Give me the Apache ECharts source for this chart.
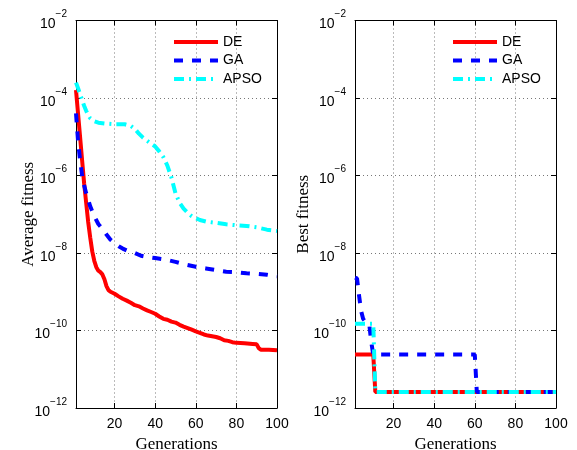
<!DOCTYPE html>
<html>
<head>
<meta charset="utf-8">
<script src="https://cdn.jsdelivr.net/npm/echarts@6/dist/echarts.min.js"></script>
<style>
  html, body { margin: 0; padding: 0; background: #fff; }
  #chart { width: 577px; height: 450px; }
</style>
</head>
<body>
<div id="chart"></div>
<script>
var deAvgGen = [1, 2, 3, 4, 5, 6, 7, 8, 9, 10, 11, 12, 13, 14, 15, 16, 17, 18, 20, 22, 24, 26, 28, 30, 32, 34, 36, 38, 40, 42, 44, 46, 48, 50, 52, 54, 56, 58, 60, 62, 64, 66, 68, 70, 72, 74, 76, 78, 80, 84, 88, 90, 91, 92, 96, 100];
var deAvg = [1.6e-4, 4.0e-5, 1.0e-5, 2.5e-6, 6.3e-7, 2.0e-7, 6.3e-8, 2.5e-8, 1.1e-8, 6.3e-9, 4.3e-9, 3.5e-9, 3.2e-9, 2.8e-9, 2.1e-9, 1.4e-9, 1.1e-9, 1.0e-9, 8.9e-10, 7.6e-10, 6.6e-10, 5.9e-10, 5.2e-10, 4.5e-10, 4.2e-10, 3.7e-10, 3.3e-10, 3.0e-10, 2.7e-10, 2.3e-10, 2.0e-10, 1.9e-10, 1.7e-10, 1.6e-10, 1.4e-10, 1.26e-10, 1.15e-10, 1.05e-10, 9.5e-11, 8.7e-11, 7.9e-11, 7.4e-11, 7.1e-11, 6.8e-11, 6.3e-11, 5.6e-11, 5.4e-11, 5.0e-11, 4.8e-11, 4.7e-11, 4.5e-11, 4.4e-11, 3.5e-11, 3.2e-11, 3.2e-11, 3.1e-11];

var gaAvgGen = [1, 2, 3, 4, 5, 6, 7, 8, 9, 10, 12, 14, 16, 18, 20, 22, 24, 27, 30, 33, 36, 40, 45, 50, 55, 60, 65, 70, 75, 80, 85, 90, 95, 100];
var gaAvg = [4.0e-5, 7.9e-6, 2.5e-6, 1.0e-6, 5.6e-7, 3.5e-7, 2.4e-7, 1.6e-7, 1.2e-7, 8.9e-8, 5.6e-8, 4.2e-8, 3.0e-8, 2.2e-8, 1.8e-8, 1.5e-8, 1.3e-8, 1.1e-8, 1.0e-8, 8.5e-9, 7.9e-9, 7.4e-9, 6.8e-9, 5.9e-9, 5.0e-9, 4.4e-9, 4.0e-9, 3.6e-9, 3.3e-9, 3.2e-9, 3.0e-9, 2.9e-9, 2.75e-9, 2.5e-9];

var apsoAvgGen = [1, 2, 3, 4, 5, 6, 7, 8, 10, 12, 15, 20, 25, 28, 30, 32, 34, 36, 38, 40, 42, 44, 46, 48, 50, 52, 54, 56, 58, 60, 62, 65, 70, 75, 80, 85, 90, 95, 100];
var apsoAvg = [2.5e-4, 1.8e-4, 1.26e-4, 8.9e-5, 6.3e-5, 4.7e-5, 3.6e-5, 3.0e-5, 2.5e-5, 2.3e-5, 2.2e-5, 2.1e-5, 2.1e-5, 1.9e-5, 1.6e-5, 1.2e-5, 9.5e-6, 7.9e-6, 6.6e-6, 5.6e-6, 4.2e-6, 3.0e-6, 1.8e-6, 8.9e-7, 3.5e-7, 2.0e-7, 1.4e-7, 1.1e-7, 8.9e-8, 7.9e-8, 7.1e-8, 6.5e-8, 6.0e-8, 5.5e-8, 5.2e-8, 5.0e-8, 4.6e-8, 4.0e-8, 3.7e-8];

var deBestGen = [1, 10, 11, 100];
var deBest = [2.4e-11, 2.4e-11, 2.6e-12, 2.6e-12];
var gaBestGen = [1, 2, 3, 4, 5, 6, 8, 9, 10, 60, 61, 100];
var gaBest = [2.3e-9, 2.2e-9, 8.0e-10, 3.2e-10, 2.0e-10, 1.7e-10, 1.5e-10, 5.0e-11, 2.4e-11, 2.4e-11, 2.6e-12, 2.6e-12];
var apsoBestGen = [1, 10, 11, 100];
var apsoBest = [1.5e-10, 1.5e-10, 2.6e-12, 2.6e-12];

var names = ['DE', 'GA', 'APSO'];
var xTicks = [20, 40, 60, 80, 100];

function pairs(xs, ys) {
  return xs.map(function (x, i) { return [x, ys[i]]; });
}

var dom = document.getElementById('chart');
var myChart = echarts.init(dom, null, { renderer: 'canvas' });

var sans = 'Liberation Sans';
var serif = 'Liberation Serif';

function logLabel(v) {
  var e = Math.round(Math.log10(v));
  return '{b|10}{s|' + (e < 0 ? '\u2212' : '') + Math.abs(e) + '}';
}

function xAxisFor(grid, top, title) {
  return {
    type: 'value', gridIndex: grid, min: 1, max: 100,
    position: top ? 'top' : 'bottom',
    name: top ? '' : title, nameLocation: 'middle', nameGap: 24,
    nameTextStyle: { fontFamily: serif, fontSize: 17, color: '#000' },
    axisLine: { show: true, onZero: false, lineStyle: { color: '#000', width: 1 } },
    axisTick: { show: true, inside: true, length: 5, customValues: xTicks, lineStyle: { color: '#000' } },
    axisLabel: { show: !top, customValues: xTicks, margin: 9, fontFamily: sans, fontSize: 14, color: '#000' },
    splitLine: { show: !top, lineStyle: { color: '#777', type: [1, 3], width: 1 } }
  };
}

function yAxisFor(grid, right, title, gap) {
  return {
    type: 'log', logBase: 10, gridIndex: grid, min: 1e-12, max: 1e-2,
    splitNumber: 5, interval: 2,
    position: right ? 'right' : 'left',
    name: right ? '' : title, nameLocation: 'middle', nameGap: gap,
    nameMoveOverlap: false,
    nameTextStyle: { fontFamily: serif, fontSize: 17, color: '#000' },
    axisLine: { show: true, lineStyle: { color: '#000', width: 1 } },
    axisTick: { show: true, inside: true, length: 5, lineStyle: { color: '#000' } },
    minorTick: { show: false },
    axisLabel: {
      show: !right, margin: 9, formatter: logLabel,
      rich: {
        b: { fontFamily: sans, fontSize: 14, color: '#000', lineHeight: 22, verticalAlign: 'bottom' },
        s: { fontFamily: sans, fontSize: 10, color: '#000', lineHeight: 22, verticalAlign: 'top' }
      }
    },
    splitLine: { show: !right, lineStyle: { color: '#777', type: [1, 3], width: 1 } }
  };
}

var styles = [
  { color: '#ff0000', type: 'solid' },
  { color: '#0000ff', type: [9, 9] },
  { color: '#00ffff', type: [10, 5, 2, 5] }
];

function line(name, data, xi, yi, k) {
  return {
    name: name, type: 'line', xAxisIndex: xi, yAxisIndex: yi,
    data: data, symbol: 'none', showSymbol: false, silent: true,
    lineStyle: { color: styles[k].color, width: 4, type: styles[k].type, cap: 'butt' },
    itemStyle: { color: styles[k].color },
    z: 2 + k
  };
}

function legendAt(left) {
  return {
    data: names, orient: 'vertical', left: left, top: 30,
    itemWidth: 44, itemHeight: 14, itemGap: 4.5,
    itemStyle: { opacity: 0, borderWidth: 0 },
    lineStyle: { width: 4 },
    textStyle: { fontFamily: sans, fontSize: 14, color: '#000' },
    selectedMode: false
  };
}

option = {
  animation: false,
  backgroundColor: '#fff',
  grid: [
    { left: 76, right: 300, top: 20.5, bottom: 42, outerBoundsMode: 'none' },
    { left: 355, right: 21, top: 20.5, bottom: 42, outerBoundsMode: 'none' }
  ],
  legend: [legendAt(167), legendAt(446)],
  xAxis: [xAxisFor(0, false, 'Generations'), xAxisFor(0, true), xAxisFor(1, false, 'Generations'), xAxisFor(1, true)],
  yAxis: [yAxisFor(0, false, 'Average fitness', 39), yAxisFor(0, true), yAxisFor(1, false, 'Best fitness', 43), yAxisFor(1, true)],
  series: [
    line('DE', pairs(deAvgGen, deAvg), 0, 0, 0),
    line('GA', pairs(gaAvgGen, gaAvg), 0, 0, 1),
    line('APSO', pairs(apsoAvgGen, apsoAvg), 0, 0, 2),
    line('DE', pairs(deBestGen, deBest), 2, 2, 0),
    line('GA', pairs(gaBestGen, gaBest), 2, 2, 1),
    line('APSO', pairs(apsoBestGen, apsoBest), 2, 2, 2)
  ]
};

myChart.setOption(option);
window.addEventListener('resize', myChart.resize);
</script>
</body>
</html>
